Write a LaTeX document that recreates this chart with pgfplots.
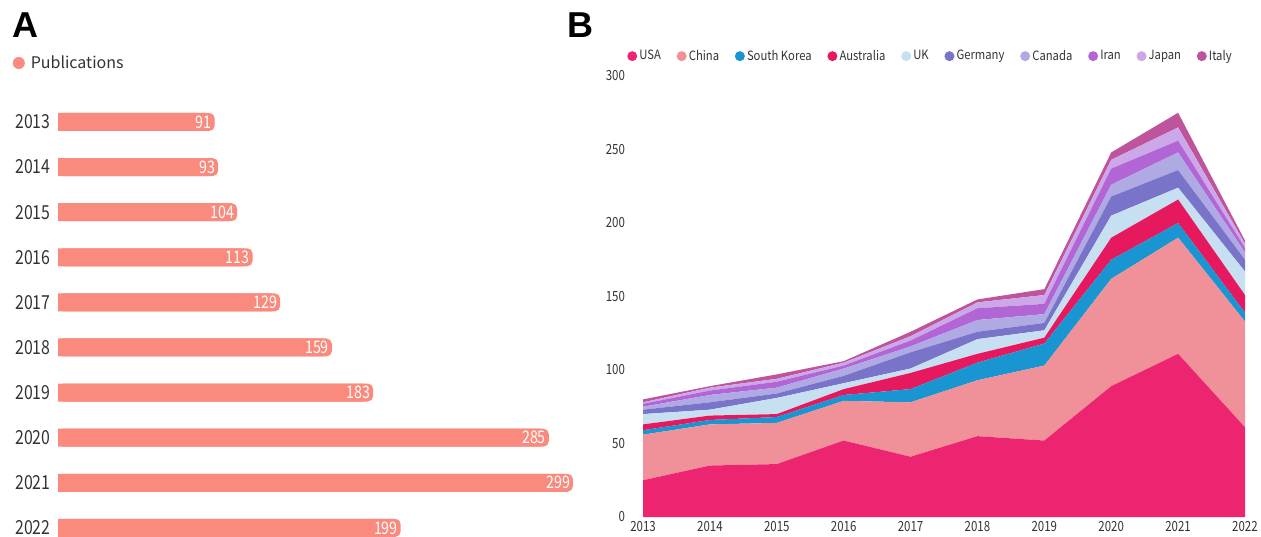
\documentclass[border=0pt]{standalone}
\usepackage{pgfplots}
\usepackage{pgfplotstable}
\pgfplotsset{compat=1.18}
\usepackage{fontspec}
\setmainfont{Noto Sans CJK SC}
\newfontfamily\numfont{Noto Sans CJK SC}[FakeStretch=0.82]
\newfontfamily\legfont{Noto Sans CJK SC}[FakeStretch=0.88]
\newfontfamily\panelfont{Liberation Sans}

\definecolor{labelgray}{RGB}{51,51,51}
\definecolor{pub}{RGB}{250,138,126}
\definecolor{cUSA}{RGB}{237,36,111}
\definecolor{cChina}{RGB}{240,144,152}
\definecolor{cKorea}{RGB}{25,150,210}
\definecolor{cAustralia}{RGB}{230,25,95}
\definecolor{cUK}{RGB}{198,224,242}
\definecolor{cGermany}{RGB}{121,116,201}
\definecolor{cCanada}{RGB}{176,170,228}
\definecolor{cIran}{RGB}{178,102,214}
\definecolor{cJapan}{RGB}{205,168,232}
\definecolor{cItaly}{RGB}{189,84,156}

% publications per year
\pgfplotstableread{
year n
2013 91
2014 93
2015 104
2016 113
2017 129
2018 159
2019 183
2020 285
2021 299
2022 199
}\pubdata

% publications per year by country
\pgfplotstableread{
year USA China Korea Australia UK Germany Canada Iran Japan Italy
2013 25 31 3 4 7 3 2 2 1 2
2014 35 28 3 3 4 5 5 3 2 1
2015 36 28 4 2 11 3 4 4 2 3
2016 52 27 4 4 4 5 5 2 2 1
2017 41 37 9 11 3 11 4 4 3 3
2018 55 38 12 6 10 5 8 8 4 2
2019 52 51 15 4 5 5 6 7 6 4
2020 89 73 13 15 15 13 8 11 6 5
2021 111 79 10 16 8 12 12 8 9 10
2022 61 72 6 12 16 8 5 3 3 2
}\countrydata

\begin{document}
\begin{tikzpicture}
\path[use as bounding box] (0pt,0pt) rectangle (945.75pt,402pt);

\node[anchor=base west, inner sep=0pt, font=\panelfont\bfseries\fontsize{27}{27}\selectfont] at (9pt,373.5pt) {A};
\node[anchor=base west, inner sep=0pt, font=\panelfont\bfseries\fontsize{27}{27}\selectfont] at (425.25pt,373.5pt) {B};

% panel A: horizontal bars
\begin{axis}[
  at={(43.5pt,-10.8pt)}, anchor=south west,
  scale only axis, width=387.45pt, height=338.25pt,
  xmin=0, xmax=300, ymin=2012.5, ymax=2022.5, y dir=reverse,
  xbar, bar width=13.5pt, bar shift=0pt,
  axis line style={draw=none}, tick style={draw=none},
  xtick=\empty, ytick={2013,...,2022},
  /pgf/number format/assume math mode=true,
  /pgf/number format/1000 sep={},
  yticklabel style={font=\numfont\fontsize{14.5}{14.5}\selectfont, text=labelgray, xshift=2.2pt},
  clip=false,
  legend style={at={(-0.088,1.0807)}, anchor=west, draw=none, fill=none,
    inner sep=0pt, font=\fontsize{12}{12}\selectfont, text=labelgray,
    nodes={inner xsep=4.5pt}},
  legend image code/.code={\fill[pub] (4.5pt,0pt) circle (4.5pt);},
]
\addplot[fill=pub, draw=none, forget plot] table[x expr=\thisrow{n}-5, y=year]{\pubdata};
\addplot[fill=pub, draw=none, rounded corners=4pt,
  nodes near coords,
  every node near coord/.append style={anchor=east, text=white,
    font=\numfont\fontsize{13}{13}\selectfont, inner xsep=2pt}]
  table[x=n, y=year]{\pubdata};
\addlegendentry{Publications}
\end{axis}

% panel B: stacked areas by country
\begin{axis}[
  at={(482.25pt,14.25pt)}, anchor=south west,
  scale only axis, width=451.5pt, height=330.75pt,
  xmin=2013, xmax=2022, ymin=0, ymax=300,
  stack plots=y,
  axis line style={draw=none}, tick style={draw=none},
  xtick={2013,...,2022}, ytick={0,50,...,300},
  /pgf/number format/assume math mode=true,
  /pgf/number format/1000 sep={},
  ticklabel style={font=\numfont\fontsize{10.5}{10.5}\selectfont, text=labelgray},
  yticklabel style={xshift=-10pt},
  legend columns=-1,
  legend style={at={(-0.0266,1.045)}, anchor=west, draw=none, fill=none,
    inner sep=0pt, font=\legfont\fontsize{9.6}{9.6}\selectfont, text=labelgray,
    nodes={inner xsep=1.6pt},
    /tikz/every even column/.append style={column sep=10.2pt}},
  legend image code/.code={\fill[#1] (3.75pt,0pt) circle (3.75pt);},
]
\addplot[fill=cUSA, draw=none] table[x=year, y=USA]{\countrydata} \closedcycle;
\addplot[fill=cChina, draw=none] table[x=year, y=China]{\countrydata} \closedcycle;
\addplot[fill=cKorea, draw=none] table[x=year, y=Korea]{\countrydata} \closedcycle;
\addplot[fill=cAustralia, draw=none] table[x=year, y=Australia]{\countrydata} \closedcycle;
\addplot[fill=cUK, draw=none] table[x=year, y=UK]{\countrydata} \closedcycle;
\addplot[fill=cGermany, draw=none] table[x=year, y=Germany]{\countrydata} \closedcycle;
\addplot[fill=cCanada, draw=none] table[x=year, y=Canada]{\countrydata} \closedcycle;
\addplot[fill=cIran, draw=none] table[x=year, y=Iran]{\countrydata} \closedcycle;
\addplot[fill=cJapan, draw=none] table[x=year, y=Japan]{\countrydata} \closedcycle;
\addplot[fill=cItaly, draw=none] table[x=year, y=Italy]{\countrydata} \closedcycle;
\legend{USA, China, South Korea, Australia, UK, Germany, Canada, Iran, Japan, Italy}
\end{axis}
\end{tikzpicture}
\end{document}
